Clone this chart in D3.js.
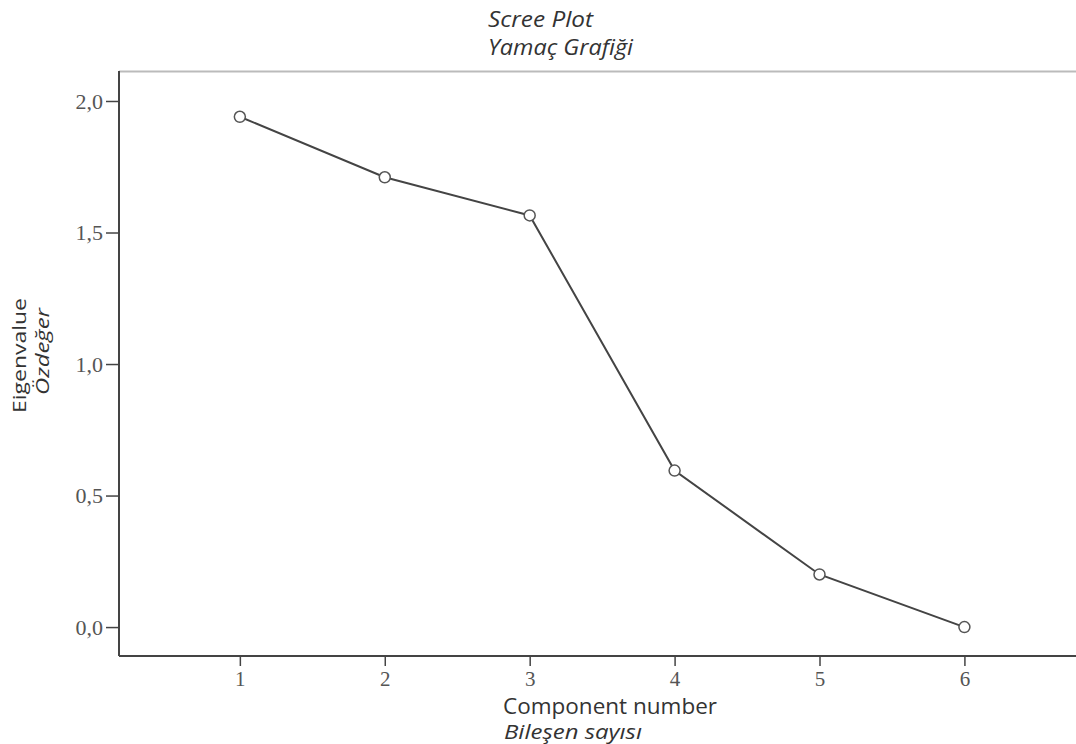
<!DOCTYPE html>
<html>
<head>
<meta charset="utf-8">
<script src="https://cdn.jsdelivr.net/npm/d3@7"></script>
<style>
  body { margin: 0; background: #fff; }
  svg { display: block; }
</style>
</head>
<body>
<div id="chart"></div>
<script>
// scree plot data
const components = [1, 2, 3, 4, 5, 6];
const eigenvalues = [1.94, 1.71, 1.565, 0.595, 0.2, 0.0];
const yTicks = [0, 0.5, 1.0, 1.5, 2.0];

const W = 1076, H = 744;
const mLeft = 119, mTop = 71, mRight = 1076, mBottom = 656;

const svg = d3.select("#chart").append("svg")
  .attr("width", W).attr("height", H);

const x = d3.scaleLinear().domain([0.166, 6.77]).range([mLeft, mRight]);
const y = d3.scaleLinear().domain([-0.11, 2.114]).range([mBottom, mTop]);

// top frame line (light)
svg.append("line")
  .attr("x1", mLeft).attr("x2", mRight)
  .attr("y1", mTop + 0.5).attr("y2", mTop + 0.5)
  .attr("stroke", "#bbb").attr("stroke-width", 2);

// y axis
const yAxis = d3.axisLeft(y)
  .tickValues(yTicks)
  .tickSize(13)
  .tickFormat(d => d3.format(".1f")(d).replace(".", ","));
const gy = svg.append("g")
  .attr("transform", `translate(${mLeft},0)`)
  .call(yAxis);
gy.select(".domain").attr("stroke", "#444").attr("stroke-width", 2)
  .attr("d", `M0,${mTop}V${mBottom}`);
gy.selectAll(".tick line").attr("stroke", "#444").attr("stroke-width", 1.5);
gy.selectAll(".tick text")
  .attr("x", -16)
  .attr("font-family", "Liberation Serif, serif")
  .attr("font-size", 22)
  .attr("fill", "#555");

// x axis
const xAxis = d3.axisBottom(x)
  .tickValues(components)
  .tickSize(10)
  .tickFormat(d3.format("d"));
const gx = svg.append("g")
  .attr("transform", `translate(0,${mBottom})`)
  .call(xAxis);
gx.select(".domain").attr("stroke", "#444").attr("stroke-width", 2)
  .attr("d", `M${mLeft},0H${mRight}`);
gx.selectAll(".tick line").attr("stroke", "#444").attr("stroke-width", 1.5);
gx.selectAll(".tick text")
  .attr("y", 15)
  .attr("font-family", "Liberation Serif, serif")
  .attr("font-size", 21)
  .attr("fill", "#555");

// line + markers
const line = d3.line()
  .x((d, i) => x(components[i]))
  .y(d => y(d));
svg.append("path")
  .datum(eigenvalues)
  .attr("fill", "none")
  .attr("stroke", "#444")
  .attr("stroke-width", 2)
  .attr("d", line);

svg.selectAll("circle.pt")
  .data(eigenvalues)
  .enter().append("circle")
  .attr("class", "pt")
  .attr("cx", (d, i) => x(components[i]))
  .attr("cy", d => y(d))
  .attr("r", 5.5)
  .attr("fill", "#fff")
  .attr("stroke", "#555")
  .attr("stroke-width", 1.5);

// titles
const sans = "Open Sans, Noto Sans, sans-serif";
svg.append("text").attr("x", 488).attr("y", 27)
  .attr("font-family", sans).attr("font-style", "italic")
  .attr("font-size", 21).attr("fill", "#333")
  .attr("textLength", 105).attr("lengthAdjust", "spacingAndGlyphs")
  .text("Scree Plot");
svg.append("text").attr("x", 488).attr("y", 55)
  .attr("font-family", sans).attr("font-style", "italic")
  .attr("font-size", 21).attr("fill", "#333")
  .attr("textLength", 145).attr("lengthAdjust", "spacingAndGlyphs")
  .text("Yamaç Grafiği");

svg.append("text").attr("x", 503).attr("y", 714)
  .attr("font-family", sans)
  .attr("font-size", 21).attr("fill", "#333")
  .attr("textLength", 214).attr("lengthAdjust", "spacingAndGlyphs")
  .text("Component number");
svg.append("text").attr("x", 504).attr("y", 739)
  .attr("font-family", sans).attr("font-style", "italic")
  .attr("font-size", 20).attr("fill", "#333")
  .attr("textLength", 138).attr("lengthAdjust", "spacingAndGlyphs")
  .text("Bileşen sayısı");

svg.append("text")
  .attr("transform", "translate(26,413) rotate(-90)")
  .attr("font-family", sans)
  .attr("font-size", 18).attr("fill", "#333")
  .attr("textLength", 115).attr("lengthAdjust", "spacingAndGlyphs")
  .text("Eigenvalue");
svg.append("text")
  .attr("transform", "translate(49,395) rotate(-90)")
  .attr("font-family", sans).attr("font-style", "italic")
  .attr("font-size", 18).attr("fill", "#333")
  .attr("textLength", 87).attr("lengthAdjust", "spacingAndGlyphs")
  .text("Özdeğer");
</script>
</body>
</html>
